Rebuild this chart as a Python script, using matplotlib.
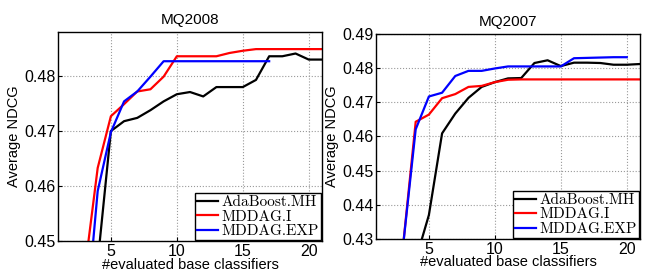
import matplotlib
matplotlib.use('Agg')
import matplotlib.pyplot as plt

# MQ2008
x_2008 = list(range(3, 22))
ada_2008 = [0.4400, 0.4462, 0.4700, 0.4718, 0.4724, 0.4738, 0.4754, 0.4767, 0.4771, 0.4763,
            0.4780, 0.4780, 0.4780, 0.4793, 0.4836, 0.4836, 0.4841, 0.4830, 0.4830]
mi_2008 = [0.4443, 0.4633, 0.4727, 0.4749, 0.4772, 0.4776, 0.4799, 0.4836, 0.4836, 0.4836,
           0.4836, 0.4842, 0.4846, 0.4849, 0.4849, 0.4849, 0.4849, 0.4849, 0.4849]
x_exp_2008 = list(range(3, 18))
exp_2008 = [0.4324, 0.4591, 0.4698, 0.4754, 0.4772, 0.4799, 0.4827, 0.4827, 0.4827, 0.4827,
            0.4827, 0.4827, 0.4827, 0.4827, 0.4827]

# MQ2007
x_2007 = list(range(3, 22))
ada_2007 = [0.4150, 0.4238, 0.4370, 0.4609, 0.4667, 0.4713, 0.4745, 0.4759, 0.4770, 0.4771,
            0.4815, 0.4823, 0.4806, 0.4816, 0.4816, 0.4815, 0.4810, 0.4810, 0.4812]
mi_2007 = [0.4264, 0.4643, 0.4664, 0.4712, 0.4724, 0.4745, 0.4748, 0.4759, 0.4766, 0.4767,
           0.4767, 0.4767, 0.4767, 0.4767, 0.4767, 0.4767, 0.4767, 0.4767, 0.4767]
x_exp_2007 = list(range(3, 21))
exp_2007 = [0.4264, 0.4621, 0.4717, 0.4728, 0.4777, 0.4792, 0.4792, 0.4799, 0.4805, 0.4805,
            0.4805, 0.4805, 0.4805, 0.4829, 0.4830, 0.4831, 0.4832, 0.4832]

labels = ["AdaBoost.MH", "MDDAG.I", "MDDAG.EXP"]
colors = ["black", "red", "blue"]

sans = "Liberation Sans"

fig = plt.figure(figsize=(6.53, 2.74), dpi=100)
ax1 = fig.add_axes([0.089, 0.120, 0.404, 0.763])
ax2 = fig.add_axes([0.576, 0.128, 0.404, 0.748])


def style(ax, title, ylim, yticks):
	ax.set_xlim(1, 21)
	ax.set_ylim(*ylim)
	ax.set_xticks([5, 10, 15, 20])
	ax.set_yticks(yticks)
	ax.set_yticklabels(["%.2f" % v for v in yticks], fontfamily=sans, fontsize=11.5)
	ax.set_xticklabels(["5", "10", "15", "20"], fontfamily=sans, fontsize=11.5)
	ax.tick_params(direction='in', length=3, width=0.8, pad=2)
	ax.grid(True, linestyle=':', color='#999999', linewidth=0.8)
	ax.set_title(title, fontfamily=sans, fontsize=11, pad=6)
	ax.set_xlabel("#evaluated base classifiers", fontfamily=sans, fontsize=10.5, labelpad=-1)
	ax.set_ylabel("Average NDCG", fontfamily=sans, fontsize=10.5, labelpad=2)
	for s in ax.spines.values():
		s.set_linewidth(1.0)
	leg = ax.legend(loc='lower right', prop={'family': 'cmr10', 'size': 11},
			handlelength=1.4, handletextpad=0.2, borderpad=0.15, labelspacing=0.05,
			borderaxespad=0.05, fancybox=False, framealpha=1.0)
	leg.get_frame().set_edgecolor('black')
	leg.get_frame().set_linewidth(1.0)


ax1.plot(x_2008, ada_2008, color=colors[0], lw=1.6, label=labels[0])
ax1.plot(x_2008, mi_2008, color=colors[1], lw=1.6, label=labels[1])
ax1.plot(x_exp_2008, exp_2008, color=colors[2], lw=1.6, label=labels[2])
style(ax1, "MQ2008", (0.45, 0.488), [0.45, 0.46, 0.47, 0.48])

ax2.plot(x_2007, ada_2007, color=colors[0], lw=1.6, label=labels[0])
ax2.plot(x_2007, mi_2007, color=colors[1], lw=1.6, label=labels[1])
ax2.plot(x_exp_2007, exp_2007, color=colors[2], lw=1.6, label=labels[2])
style(ax2, "MQ2007", (0.43, 0.49), [0.43, 0.44, 0.45, 0.46, 0.47, 0.48, 0.49])

fig.savefig("out.png", dpi=100)
